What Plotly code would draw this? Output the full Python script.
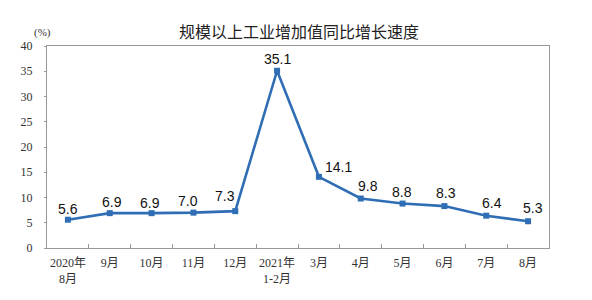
import plotly.graph_objects as go

categories = ["2020年<br>8月", "9月", "10月", "11月", "12月", "2021年<br>1-2月",
              "3月", "4月", "5月", "6月", "7月", "8月"]
values = [5.6, 6.9, 6.9, 7.0, 7.3, 35.1, 14.1, 9.8, 8.8, 8.3, 6.4, 5.3]
labels = ["5.6", "6.9", "6.9", "7.0", "7.3", "35.1", "14.1", "9.8", "8.8", "8.3", "6.4", "5.3"]
yticks = [0, 5, 10, 15, 20, 25, 30, 35, 40]

# label offsets (pixels) relative to each point
dx = [0, 2, -2, -5, -10, 0, 20, 7, -1, 2, 6, 5]
dy = [11, 11, 10, 12, 15, 12, 10, 13, 12, 13, 13, 13]

line_color = "#2F6DB4"

fig = go.Figure()
fig.add_trace(go.Scatter(
    x=categories, y=values, mode="lines+markers",
    line=dict(color=line_color, width=2.6),
    marker=dict(symbol="square", size=6, color=line_color),
    hoverinfo="skip", showlegend=False,
))

for i, (c, v, t) in enumerate(zip(categories, values, labels)):
    fig.add_annotation(x=c, y=v, text=t, showarrow=False,
                       xshift=dx[i], yshift=dy[i],
                       yanchor="middle", xanchor="center",
                       font=dict(family="Arial, Liberation Sans, sans-serif", size=14, color="#111"))

fig.add_annotation(xref="paper", yref="paper", x=-0.008, y=1.0, yshift=14,
                   text="(%)", showarrow=False, xanchor="center", yanchor="middle",
                   font=dict(family="Liberation Serif, serif", size=11, color="#333"))

fig.update_layout(
    width=592, height=300,
    margin=dict(l=47, r=43, t=46, b=52),
    paper_bgcolor="white", plot_bgcolor="white",
    title=dict(text="规模以上工业增加值同比增长速度", x=0.505, xanchor="center",
               y=1 - 32 / 300, yanchor="middle",
               font=dict(family="Noto Sans CJK SC, sans-serif", size=16, color="#222")),
    xaxis=dict(
        type="category", showgrid=False, showline=True, linecolor="#999", linewidth=1,
        mirror=True, ticks="inside", ticklen=4, tickcolor="#999",
        tickson="boundaries", tickangle=0, ticklabelstandoff=4,
        tickfont=dict(family="Liberation Serif, Noto Sans CJK SC, serif", size=12, color="#333"),
        range=[-0.5, 11.5],
    ),
    yaxis=dict(
        range=[0, 40], tickvals=yticks, showgrid=False, zeroline=False,
        showline=True, linecolor="#999", linewidth=1, mirror=True,
        ticks="outside", ticklen=2, tickcolor="#999", ticklabelstandoff=9,
        tickfont=dict(family="Liberation Serif, serif", size=12, color="#333"),
    ),
)

fig.write_html("out.html")
